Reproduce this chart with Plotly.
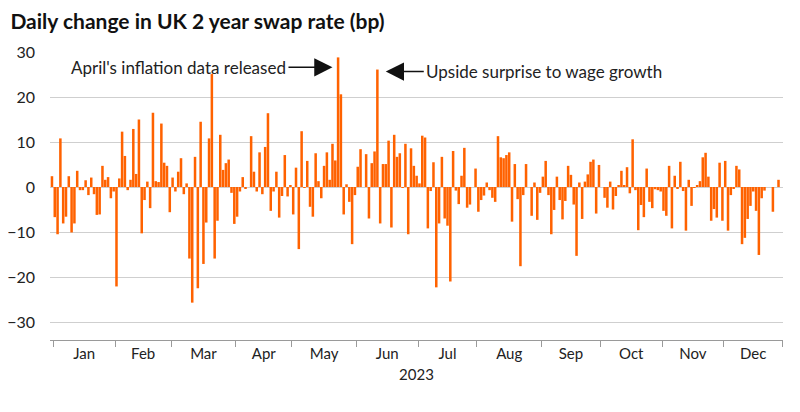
import pandas as pd
import plotly.graph_objects as go

# ---- data (daily change, bp), one list per month, business days of 2023 ----
months = ["Jan", "Feb", "Mar", "Apr", "May", "Jun", "Jul", "Aug", "Sep", "Oct", "Nov", "Dec"]
jan = [2.4, -6.7, -10.5, 10.8, -8.1, -6.6, 2.4, -10.1, -8.1, 3.6, -0.7, -0.7, 1.5, -1.8, 2.1, -1.6, -6.2, -6.1, 4.7, 1.6, 2.2, -2.5]
feb = [-1.0, -22.1, 1.9, 12.3, 6.9, -0.7, 1.6, 12.9, 2.9, 15.0, -10.3, -2.9, 1.2, -4.7, 16.5, 1.3, 1.1, 14.1, 5.4, 4.7]
mar = [-5.6, 2.1, -1.0, 3.4, 6.4, -1.6, 0.8, -15.9, -25.7, 6.7, -22.5, 14.5, -17.1, -7.9, 10.8, 25.1, -15.9, -7.5, 11.6, 3.8, 5.3, 6.1, -1.3]
apr = [-8.2, -6.6, -1.0, 2.2, -0.3, 0.0, 11.3, 3.4, -1.0, 7.7, -1.6, 8.9, 16.4, -5.3, -1.0, 3.4, -6.8, -2.0, 7.1, -2.1]
may = [0.4, -6.1, 4.3, -13.8, 12.4, -0.1, 5.8, -4.4, -6.6, 7.5, 1.3, -2.5, 4.7, 7.7, 1.6, 9.6, 5.9, 28.8, 20.6, -6.1, 0.6, -3.3, -12.7]
jun = [-1.8, 4.5, 8.4, 0.0, 7.3, -7.0, 5.3, 7.9, 26.1, -8.1, 5.1, 5.1, 10.3, -9.0, 11.6, 6.7, 7.5, -0.1, 9.6, -10.5, 8.6, 4.7]
jul = [2.5, 0.8, 11.4, 11.0, -9.2, -0.9, 5.5, -22.3, -8.1, 6.7, -7.0, -8.6, -21.0, 8.0, -0.8, -3.8, 2.5, 8.7, -4.6, -3.9, 0.0]
aug = [4.1, -5.5, -2.9, -1.9, 1.0, -0.7, -2.4, -3.3, 11.3, 6.6, 6.4, 7.1, 7.7, -7.7, 5.1, -2.7, -17.6, -1.8, 5.1, 0.0, -6.4, 1.0, -7.3]
sep = [-1.3, 2.3, 5.8, -1.8, -10.5, -5.1, 2.3, -2.9, -7.2, -3.1, 4.7, 2.7, -3.9, -15.3, 1.0, -7.1, 1.2, 2.8, 5.6, 6.1, -5.9]
oct_ = [4.9, 0.0, -2.4, -4.6, 1.2, -5.0, -2.0, 0.4, 3.6, 0.4, 4.4, -1.4, 10.6, -0.7, -9.6, -4.0, -6.7, 4.1, -3.3, -4.7, -0.5, -0.7]
nov = [-1.0, -5.3, -6.4, 4.7, -9.2, 2.5, -0.4, 5.6, -0.9, -9.7, 1.6, -4.2, -0.1, 0.4, 1.3, 6.6, 7.6, 2.3, -7.5, -4.9, -6.8, 5.4]
dec = [-7.5, 5.8, -9.7, -1.8, -0.3, 4.7, 3.9, -12.7, -11.3, -7.1, -4.2, -1.0, -5.3, -15.1, -2.5, -0.8, 0.0, 0.0, -5.5, 0.0, 1.6]

monthly = [jan, feb, mar, apr, may, jun, jul, aug, sep, oct_, nov, dec]
y_ticks = [-30, -20, -10, 0, 10, 20, 30]
events = {"2023-05-24": "April's inflation data released",
          "2023-06-13": "Upside surprise to wage growth"}
year_label = "2023"
title = "Daily change in UK 2 year swap rate (bp)"

# ---- build ----
dates = pd.bdate_range("2023-01-02", "2023-12-29")
values = [v for m in monthly for v in m]
assert len(values) == len(dates)
idx = list(range(len(values)))
date_str = [d.strftime("%Y-%m-%d") for d in dates]

starts = []
pos = 0
for m in monthly:
    starts.append(pos)
    pos += len(m)
bounds = [s + 0.5 for s in starts] + [len(values) + 0.5]
centers = [(bounds[i] + bounds[i + 1]) / 2 for i in range(12)]

ORANGE = "#FF6200"
TXT = "#222222"
GRID = "#cfcfcf"
FONT = "Lato"

fig = go.Figure(go.Bar(x=idx, y=values, marker=dict(color=ORANGE, line=dict(width=0)),
                       hovertext=date_str))

# page body has an 8px default margin, so the figure is sized to fit inside the window
fig.update_layout(
    width=792, height=404,
    margin=dict(l=42, r=17, t=44, b=72, autoexpand=False),
    paper_bgcolor="white", plot_bgcolor="white",
    bargap=0.1, showlegend=False,
    font=dict(family=FONT, size=15, color=TXT),
    title=dict(text="<b>" + title + "</b>", x=0.003, xanchor="left", y=0.966, yanchor="middle",
               font=dict(family=FONT, size=21, color="#111111")),
)
fig.update_yaxes(range=[-34, 30], tickvals=y_ticks, showgrid=True, gridcolor=GRID, gridwidth=1,
                 zeroline=False, showline=False, ticks="", ticklabelstandoff=14, automargin=False,
                 tickfont=dict(size=16, color=TXT))
fig.update_xaxes(range=[-0.7, len(values) + 0.6], tickvals=centers, ticktext=months, ticks="",
                 showgrid=False, zeroline=False, showline=True, linecolor="#9a9a9a", linewidth=1,
                 tickfont=dict(size=15, color=TXT), automargin=False,
                 minor=dict(tickmode="array", tickvals=bounds, ticks="outside", ticklen=6,
                            tickcolor="#9a9a9a", tickwidth=1, showgrid=False),
                 title=dict(text=year_label, standoff=8, font=dict(size=15, color=TXT)))

# annotations
ev = list(events.items())
i1 = date_str.index(ev[0][0])
fig.add_annotation(x=i1 - 2.0, y=values[i1] - 2.2, text=ev[0][1], showarrow=True,
                   ax=-44, ay=0, xanchor="right", arrowhead=2, arrowsize=2.6, arrowwidth=1.4,
                   arrowcolor="#111111", font=dict(size=17, color=TXT))
i2 = date_str.index(ev[1][0])
fig.add_annotation(x=i2 + 3.0, y=values[i2] - 0.45, text=ev[1][1], showarrow=True,
                   ax=38, ay=0, xanchor="left", arrowhead=2, arrowsize=2.6, arrowwidth=1.4,
                   arrowcolor="#111111", font=dict(size=17, color=TXT))

fig.write_html("out.html")
